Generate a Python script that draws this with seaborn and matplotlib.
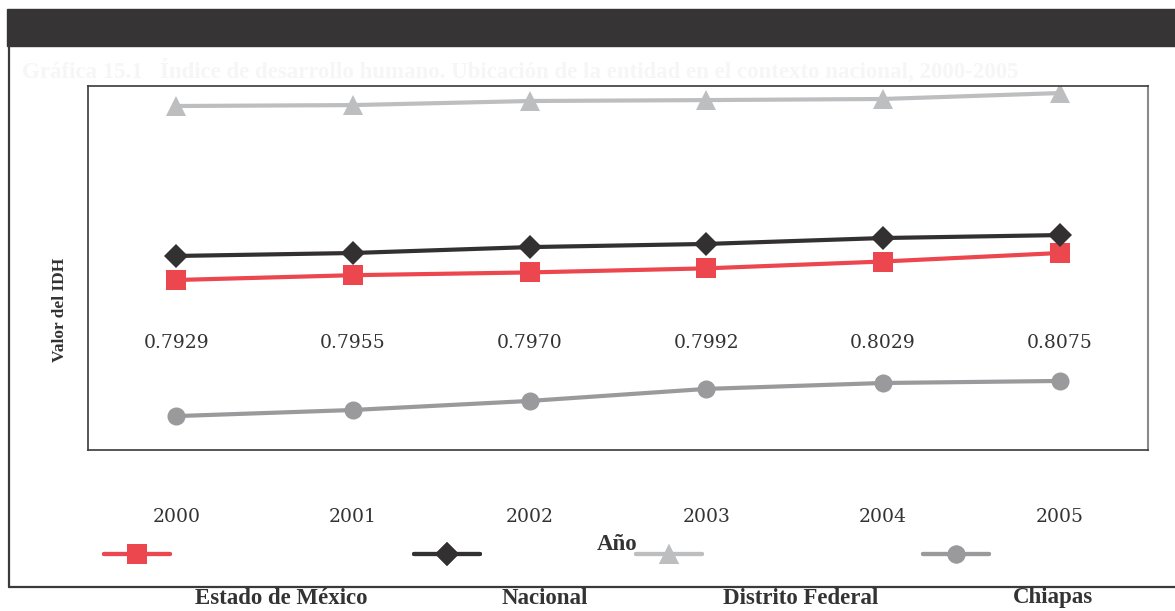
import pandas as pd
import matplotlib.pyplot as plt
import matplotlib.transforms as mtransforms
from matplotlib.lines import Line2D
from matplotlib.patches import Rectangle
import seaborn as sns

# data
years = [2000, 2001, 2002, 2003, 2004, 2005]
estado_mexico = [0.7929, 0.7955, 0.7970, 0.7992, 0.8029, 0.8075]
nacional = [0.8059, 0.8075, 0.8107, 0.8124, 0.8156, 0.8172]
distrito_federal = [0.8870, 0.8875, 0.8897, 0.8902, 0.8908, 0.8940]
chiapas = [0.7193, 0.7226, 0.7275, 0.7340, 0.7372, 0.7383]

series_names = ['Estado de México', 'Nacional', 'Distrito Federal', 'Chiapas']
series_values = [estado_mexico, nacional, distrito_federal, chiapas]
colors = ['#EC474E', '#333031', '#BDBEC0', '#9A9A9C']
markers = ['s', 'D', '^', 'o']
marker_sizes = [14, 12.5, 14, 13]

title = ('Gráfica 15.1   Índice de desarrollo humano. Ubicación de la entidad '
         'en el contexto nacional, 2000-2005')


def main():
    sns.set_theme(style='white')
    plt.rcParams['font.family'] = ['Liberation Serif', 'DejaVu Serif']

    df = pd.DataFrame({
        'Año': years * len(series_names),
        'IDH': sum(series_values, []),
        'Entidad': [n for n in series_names for _ in years],
    })

    fig = plt.figure(figsize=(11.75, 6.11), dpi=100)
    ax = fig.add_axes([88 / 1175, 1 - 450 / 611, 1060 / 1175, 364 / 611])

    for name, color, mk, ms in zip(series_names, colors, markers, marker_sizes):
        sub = df[df['Entidad'] == name]
        sns.lineplot(data=sub, x='Año', y='IDH', ax=ax, color=color,
                     marker=mk, markersize=ms, markeredgewidth=0,
                     linewidth=3, legend=False)

    ax.set_xlim(1999.5, 2005.5)
    ax.set_ylim(0.70096, 0.89782)

    # data labels for Estado de México on a fixed row
    trans = mtransforms.blended_transform_factory(ax.transData, ax.transAxes)
    for yr, v in zip(years, estado_mexico):
        ax.text(yr, 0.295, f'{v:.4f}', transform=trans, ha='center', va='center',
                fontsize=13.5, family='DejaVu Serif', color='#333333')

    ax.set_xticks(years)
    ax.set_xticklabels([str(y) for y in years], fontsize=13.5,
                       family='DejaVu Serif', color='#333333')
    ax.set_yticks([])
    ax.tick_params(axis='x', length=0, pad=42)

    ax.set_xlabel('Año', fontsize=16.5, fontweight='bold', color='#333333')
    ax.xaxis.set_label_coords(0.499, -0.232)
    ax.set_ylabel('Valor del IDH', fontsize=12.5, fontweight='bold', color='#333333')
    ax.yaxis.set_label_coords(-0.019, 0.385)

    for side in ['top', 'left', 'bottom']:
        ax.spines[side].set_color('#3a3a3a')
        ax.spines[side].set_linewidth(1.2)
    ax.spines['right'].set_color('#8a8a8a')
    ax.spines['right'].set_linewidth(1.5)

    # legend: one key per series, labels placed below the frame
    key_x = [137, 447, 669, 956]
    label_x = [281, 545, 801, 1053]
    for line, kx, lx, name in zip(ax.lines, key_x, label_x, series_names):
        leg = fig.legend(handles=[line], labels=[''], loc='center',
                         bbox_to_anchor=(kx / 1175, 1 - 555 / 611),
                         frameon=False, handlelength=4.7, handletextpad=0,
                         borderpad=0, fontsize=10)
        fig.add_artist(leg)
        fig.text(lx / 1175, 1 - 598 / 611, name, ha='center', va='center',
                 fontsize=16.5, fontweight='bold', color='#333333')

    # dark header bar, faint title and outer frame
    fig.add_artist(Rectangle((7 / 1175, 1 - 46 / 611), 1168 / 1175, 37 / 611,
                             transform=fig.transFigure, color='#363435'))
    fig.text(22 / 1175, 1 - 71 / 611, title, ha='left', va='center',
             fontsize=16.5, fontweight='bold', color='#F6F6F6')
    fig.add_artist(Line2D([9 / 1175, 9 / 1175], [1 - 46 / 611, 1 - 587 / 611],
                          transform=fig.transFigure, color='#3a3a3a', linewidth=1.6))
    fig.add_artist(Line2D([9 / 1175, 1], [1 - 587 / 611, 1 - 587 / 611],
                          transform=fig.transFigure, color='#3a3a3a', linewidth=1.6))

    fig.savefig('out.png', dpi=100)


if __name__ == '__main__':
    main()
